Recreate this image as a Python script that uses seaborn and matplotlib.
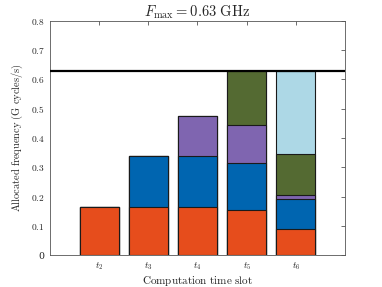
import matplotlib
matplotlib.use("Agg")
import matplotlib.pyplot as plt
import seaborn as sns
import numpy as np
import pandas as pd

# allocated frequency per user, stacked per computation slot
slots = ["$t_2$", "$t_3$", "$t_4$", "$t_5$", "$t_6$"]
user1 = [0.165, 0.165, 0.165, 0.155, 0.090]
user2 = [0.000, 0.172, 0.172, 0.161, 0.103]
user3 = [0.000, 0.000, 0.139, 0.127, 0.012]
user4 = [0.000, 0.000, 0.000, 0.187, 0.142]
user5 = [0.000, 0.000, 0.000, 0.000, 0.283]
f_max = 0.63

colors = ["#E64D1C", "#0065B0", "#7F65B0", "#546A32", "#ADD8E6"]
y_ticks = [0, 0.1, 0.2, 0.3, 0.4, 0.5, 0.6, 0.7, 0.8]

sns.set_style("white")
plt.rcParams["mathtext.fontset"] = "cm"
plt.rcParams["font.family"] = ["DejaVu Serif"]

layers = np.array([user1, user2, user3, user4, user5])
cum = np.cumsum(layers, axis=0)

fig = plt.figure(figsize=(3.82, 2.87), dpi=100)
ax = fig.add_axes([0.131, 0.111, 0.772, 0.816])

# draw cumulative totals from top layer down so each segment shows
for i in range(len(layers) - 1, -1, -1):
    df = pd.DataFrame({"slot": slots, "val": cum[i]})
    sns.barplot(data=df, x="slot", y="val", color=colors[i], saturation=1,
                width=0.8, edgecolor="#1a1a1a", linewidth=0.8, errorbar=None, ax=ax)

ax.axhline(f_max, color="black", lw=1.6, zorder=5)

ax.set_xlim(-1, 5)
ax.set_ylim(0, 0.8)
ax.set_yticks(y_ticks)
ax.set_yticklabels(["0" if v == 0 else f"${v:.1f}$" for v in y_ticks], fontsize=6.8)
ax.set_xticks(range(len(slots)))
ax.set_xticklabels(slots, fontsize=6.8)
ax.tick_params(direction="in", length=3, width=0.5, top=True, right=True,
               colors="#333333", labelcolor="#262626", pad=4)
for s in ax.spines.values():
    s.set_visible(True)
    s.set_color("#555555")
    s.set_linewidth(0.6)

ax.set_xlabel(r"$\mathrm{Computation\ time\ slot}$", fontsize=8, color="#262626", labelpad=1)
ax.set_ylabel(r"$\mathrm{Allocated\ frequency\ (G\ cycles/s)}$", fontsize=7.5, color="#262626", labelpad=4)
ax.set_title(r"$F_{\max} = 0.63\ \mathrm{GHz}$", fontsize=10.5, pad=3)

fig.savefig("out.png", dpi=100)
